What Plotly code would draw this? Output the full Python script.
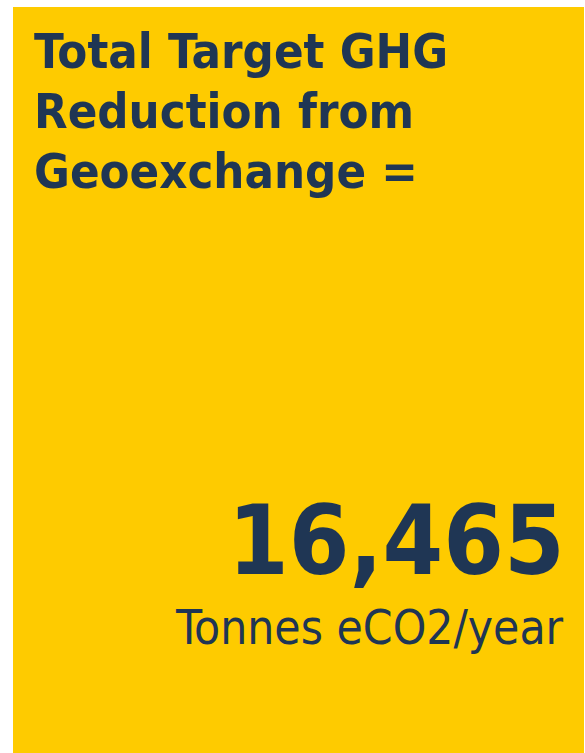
import plotly.graph_objects as go

title_lines = ["Total Target GHG", "Reduction from", "Geoexchange ="]
kpi_value = 16465
unit_label = "Tonnes eCO2/year"

W, H = 585, 753
YELLOW = "#FECB00"
NAVY = "#1F3654"
FONT = "DejaVu Sans Condensed, Tahoma, DejaVu Sans, sans-serif"


def px(v):
    return v / W


def py(v):
    return 1 - v / H


fig = go.Figure()
fig.add_shape(type="rect", xref="paper", yref="paper",
              x0=px(13), x1=px(584), y0=0, y1=py(7),
              fillcolor=YELLOW, line=dict(width=0), layer="below")

for i, line in enumerate(title_lines):
    fig.add_annotation(text="<b>" + line + "</b>",
                       xref="paper", yref="paper", x=px(32), y=py(51 + 60 * i),
                       xanchor="left", yanchor="middle", align="left", showarrow=False,
                       font=dict(family=FONT, size=48.6, color=NAVY))

fig.add_annotation(text="<b>" + f"{kpi_value:,}" + "</b>",
                   xref="paper", yref="paper", x=px(567), y=py(540),
                   xanchor="right", yanchor="middle", align="right", showarrow=False,
                   font=dict(family=FONT, size=97, color=NAVY))

fig.add_annotation(text=unit_label,
                   xref="paper", yref="paper", x=px(566), y=py(627),
                   xanchor="right", yanchor="middle", align="right", showarrow=False,
                   font=dict(family=FONT, size=47.5, color=NAVY))

fig.update_layout(width=W, height=H, margin=dict(l=0, r=0, t=0, b=0),
                  paper_bgcolor="white", plot_bgcolor="white",
                  xaxis=dict(visible=False), yaxis=dict(visible=False),
                  showlegend=False)
# remove the default 8px page margin so the figure fills the window exactly
fig.write_html("out.html", config={"displayModeBar": False},
               post_script="document.body.style.margin='0';document.body.style.overflow='hidden';")
